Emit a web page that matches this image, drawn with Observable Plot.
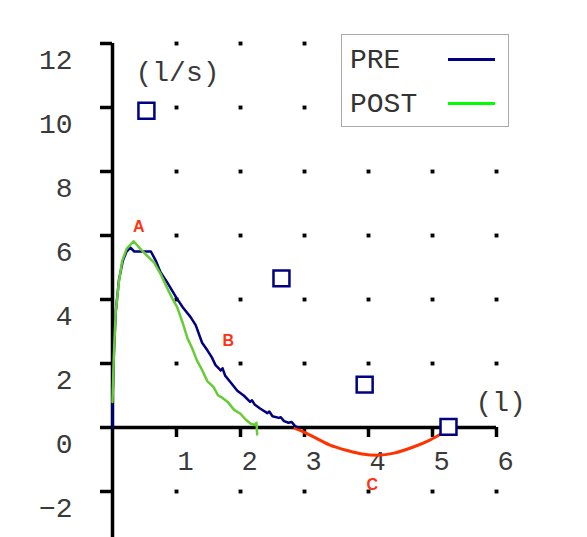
<!DOCTYPE html>
<html>
<head>
<meta charset="utf-8">
<script src="https://cdn.jsdelivr.net/npm/d3@7"></script>
<script src="https://cdn.jsdelivr.net/npm/@observablehq/plot@0.6"></script>
<style>
  body { margin: 0; background: #fff; }
  #wrap { position: relative; width: 587px; height: 537px; }
  #legend { position: absolute; left: 341px; top: 34px; width: 166px; height: 91px;
    background: #fff; border: 1px solid #aaa; font-family: "Liberation Mono", monospace;
    font-size: 28px; color: #333; line-height: 32px; }
  .row { position: absolute; left: 8px; }
  .sw { position: absolute; left: 106px; width: 47px; height: 3px; }
</style>
</head>
<body>
<div id="wrap"></div>
<script>
// Tick values
const xTicks = [1, 2, 3, 4, 5, 6];
const yTicks = [-2, 0, 2, 4, 6, 8, 10, 12];
const gridX = [1, 2, 3, 4, 5, 6];
const gridY = [-2, 2, 4, 6, 8, 10, 12];

// PRE flow-volume curve (volume l, flow l/s)
const preX = [0, 0, 0.02, 0.05, 0.1, 0.16, 0.22, 0.28, 0.34, 0.42, 0.6, 0.68, 0.75, 0.85, 1.0, 1.1, 1.22, 1.3, 1.4, 1.48, 1.55, 1.61, 1.66, 1.69, 1.72, 1.76, 1.85, 1.95, 2.05, 2.15, 2.18, 2.22, 2.3, 2.42, 2.45, 2.5, 2.6, 2.63, 2.68, 2.75, 2.8, 2.85, 2.9];
const preY = [0, 0.8, 2.2, 3.6, 4.6, 5.2, 5.5, 5.62, 5.5, 5.5, 5.5, 5.2, 4.85, 4.55, 4.05, 3.75, 3.45, 3.2, 2.65, 2.42, 2.2, 1.95, 1.85, 1.78, 1.85, 1.62, 1.4, 1.15, 1.0, 0.8, 0.85, 0.72, 0.6, 0.45, 0.5, 0.35, 0.3, 0.32, 0.2, 0.15, 0.17, 0.05, 0];

// POST flow-volume curve
const postX = [0, 0.02, 0.05, 0.1, 0.15, 0.22, 0.33, 0.45, 0.55, 0.65, 0.75, 0.85, 0.93, 1.01, 1.1, 1.17, 1.25, 1.32, 1.4, 1.48, 1.58, 1.65, 1.7, 1.8, 1.9, 2.0, 2.08, 2.16, 2.22, 2.25, 2.26];
const postY = [0.8, 2.2, 3.6, 4.55, 5.2, 5.58, 5.82, 5.55, 5.35, 5.15, 4.8, 4.38, 4.05, 3.76, 3.25, 2.8, 2.45, 2.09, 1.8, 1.45, 1.26, 1.0, 0.95, 0.8, 0.55, 0.43, 0.25, 0.12, 0.08, 0.15, -0.22];

// Inspiratory (red) segment
const inspX = [2.85, 3.0, 3.15, 3.4, 3.67, 3.9, 4.15, 4.4, 4.7, 4.95, 5.15];
const inspY = [-0.03, -0.15, -0.3, -0.55, -0.72, -0.83, -0.87, -0.8, -0.61, -0.4, -0.18];

// Predicted markers
const markX = [0.53, 2.64, 3.94, 5.25];
const markY = [9.9, 4.66, 1.34, 0.02];

// Annotations
const noteText = ["A", "B", "C"];
const noteX = [0.41, 1.81, 4.06];
const noteY = [6.28, 2.72, -1.8];

const pre = preX.map((x, i) => ({x, y: preY[i]}));
const post = postX.map((x, i) => ({x, y: postY[i]}));
const insp = inspX.map((x, i) => ({x, y: inspY[i]}));
const marks = markX.map((x, i) => ({x, y: markY[i]}));
const grid = gridX.flatMap(x => gridY.map(y => ({x, y})));
const notes = noteText.map((t, i) => ({t, x: noteX[i], y: noteY[i]}));

const mono = "Liberation Mono, monospace";

const chart = Plot.plot({
  width: 587,
  height: 537,
  marginLeft: 112,
  marginRight: 91,
  marginTop: 43,
  marginBottom: 0,
  x: {domain: [0, 6], axis: null},
  y: {domain: [-3.4375, 12], axis: null},
  style: {fontFamily: mono, background: "#fff"},
  marks: [
    Plot.dot(grid, {x: "x", y: "y", symbol: "square", r: 2.2, fill: "#000", stroke: null}),
    Plot.ruleX([0], {stroke: "#000", strokeWidth: 3.5}),
    Plot.ruleY([0], {x1: 0, x2: 6, stroke: "#000", strokeWidth: 3.5}),
    Plot.ruleY(yTicks, {y: d => d, x1: 0, x2: 0, insetLeft: -12, stroke: "#000", strokeWidth: 3.5}),
    Plot.ruleX(xTicks, {x: d => d, y1: 0, y2: 0, insetBottom: -10, stroke: "#000", strokeWidth: 3.5}),
    Plot.text(yTicks, {x: 0, y: d => d, text: d => d < 0 ? "\u2212" + Math.abs(d) : String(d), textAnchor: "end", dx: -40, dy: 17, fontSize: 28, fill: "#3a3a3a", fontFamily: mono}),
    Plot.text(xTicks, {x: d => d, y: 0, text: d => String(d), dx: 9, dy: 34, fontSize: 27, fill: "#3a3a3a", fontFamily: mono}),
    Plot.text(["(l/s)"], {frameAnchor: "top-left", dx: 23, dy: 18, textAnchor: "start", fontSize: 28, fill: "#3a3a3a", fontFamily: mono}),
    Plot.text(["(l)"], {frameAnchor: "top-left", dx: 363, dy: 348, textAnchor: "start", fontSize: 28, fill: "#3a3a3a", fontFamily: mono}),
    Plot.line(insp, {x: "x", y: "y", stroke: "#ff3300", strokeWidth: 3, curve: "catmull-rom"}),
    Plot.line(pre, {x: "x", y: "y", stroke: "#000080", strokeWidth: 2.5, curve: "linear"}),
    Plot.line(post, {x: "x", y: "y", stroke: "#66cc33", strokeWidth: 2.5, curve: "linear"}),
    Plot.dot(marks, {x: "x", y: "y", symbol: "square", r: 9, fill: "#fff", stroke: "#000080", strokeWidth: 2.5}),
    Plot.text(notes, {x: "x", y: "y", text: "t", fill: "#ff3311", fontSize: 16, fontWeight: "bold", fontFamily: "Liberation Sans, Arial, sans-serif"})
  ]
});

const wrap = document.getElementById("wrap");
wrap.appendChild(chart);

const legend = document.createElement("div");
legend.id = "legend";
legend.innerHTML = `
  <div class="row" style="top:10px">PRE</div>
  <div class="sw" style="top:23px;background:#000080"></div>
  <div class="row" style="top:54px">POST</div>
  <div class="sw" style="top:67px;background:#00ff00"></div>`;
wrap.appendChild(legend);
</script>
</body>
</html>
